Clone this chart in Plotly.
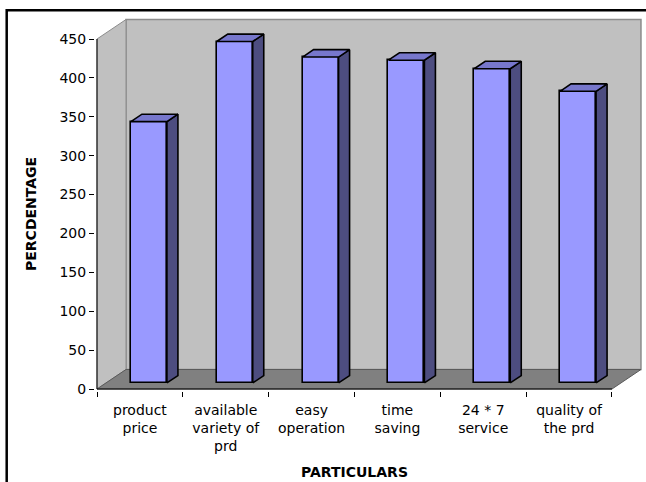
import plotly.graph_objects as go

# ---------------- data ----------------
categories = ["product price", "available variety of prd", "easy operation",
              "time saving", "24 * 7 service", "quality of the prd"]
tick_labels = ["product<br>price", "available<br>variety of<br>prd", "easy<br>operation",
               "time<br>saving", "24 * 7<br>service", "quality of<br>the prd"]
values = [336, 439, 419, 415, 404, 375]
y_ticks = [0, 50, 100, 150, 200, 250, 300, 350, 400, 450]
y_max = 450
x_title = "PARTICULARS"
y_title = "PERCDENTAGE"

# ---------------- geometry ----------------
W, H = 646, 482
L, R, T, B = 95, 3, 17, 91
plot_w, plot_h = W - L - R, H - T - B
px_x = 85.83              # px per category
px_y = 350.0 / 450.0      # px per value unit
x0 = -0.5 - 2 / px_x
y0 = -2 / px_y
x_range = [x0, x0 + plot_w / px_x]
y_range = [y0, y0 + plot_h / px_y]

n = len(values)
idx = list(range(n))
DX = 29 / px_x            # depth offset (x units)
DY = 19.5 / px_y          # depth offset (y units)
f1, f2 = 0.31, 0.69       # front / back depth fraction of bars
bw = 36 / px_x            # bar width

FRONT = "#9999FF"
TOP = "#7777CC"
SIDE = "#4D4D80"
WALL = "#C0C0C0"
FLOOR = "#808080"
EDGE = "#8C8C8C"

fig = go.Figure()

# front faces
fig.add_trace(go.Bar(
    x=idx, y=values, base=[f1 * DY] * n, width=bw, offset=f1 * DX - bw / 2,
    marker=dict(color=FRONT, line=dict(color="black", width=1.6)),
    hoverinfo="skip", showlegend=False))

# side and top faces
sx, sy = [], []
tx, ty = [], []
for c, v in zip(idx, values):
    xr1 = c + f1 * DX + bw / 2
    xr2 = c + f2 * DX + bw / 2
    xl1 = c + f1 * DX - bw / 2
    xl2 = c + f2 * DX - bw / 2
    sx += [xr1, xr2, xr2, xr1, xr1, None]
    sy += [f1 * DY, f2 * DY, f2 * DY + v, f1 * DY + v, f1 * DY, None]
    tx += [xl1, xr1, xr2, xl2, xl1, None]
    ty += [f1 * DY + v, f1 * DY + v, f2 * DY + v, f2 * DY + v, f1 * DY + v, None]

fig.add_trace(go.Scatter(x=sx, y=sy, mode="lines", fill="toself", fillcolor=SIDE,
                         line=dict(color="black", width=1.6), hoverinfo="skip",
                         showlegend=False))
fig.add_trace(go.Scatter(x=tx, y=ty, mode="lines", fill="toself", fillcolor=TOP,
                         line=dict(color="black", width=1.6), hoverinfo="skip",
                         showlegend=False))

# ---------------- walls / floor ----------------
xa, xb = -0.5, n - 0.5
shapes = []
# back wall
shapes.append(dict(type="rect", xref="x", yref="y", x0=xa + DX, x1=xb + DX,
                   y0=DY, y1=y_max + DY, fillcolor=WALL,
                   line=dict(color=EDGE, width=1.5), layer="below"))
# left wall
shapes.append(dict(type="path", xref="x", yref="y",
                   path=f"M{xa},0 L{xa},{y_max} L{xa + DX},{y_max + DY} L{xa + DX},{DY} Z",
                   fillcolor=WALL, line=dict(color=EDGE, width=1), layer="below"))
# floor
shapes.append(dict(type="path", xref="x", yref="y",
                   path=f"M{xa},0 L{xb},0 L{xb + DX},{DY} L{xa + DX},{DY} Z",
                   fillcolor=FLOOR, line=dict(color="#5A5A5A", width=1), layer="below"))
# axis lines
shapes.append(dict(type="line", xref="x", yref="y", x0=xa, x1=xa, y0=0, y1=y_max,
                   line=dict(color="black", width=1)))
shapes.append(dict(type="line", xref="x", yref="y", x0=xa, x1=xb, y0=0, y1=0,
                   line=dict(color="black", width=1)))
# outer frame
shapes.append(dict(type="rect", xref="paper", yref="paper",
                   x0=(6.7 - L) / plot_w, x1=1.2,
                   y0=-0.5, y1=(H - B - 10.2) / plot_h,
                   fillcolor="rgba(0,0,0,0)", line=dict(color="black", width=2.5)))

font_family = "DejaVu Sans"

annotations = [
    dict(text=x_title, xref="x", yref="paper", x=(n - 1) / 2,
         y=(H - B - 472) / plot_h, showarrow=False, xanchor="center", yanchor="middle",
         font=dict(family=font_family, size=14, color="black", weight="bold")),
    dict(text=y_title, xref="paper", yref="y", x=(31 - L) / plot_w, y=y_max / 2,
         textangle=-90, showarrow=False, xanchor="center", yanchor="middle",
         font=dict(family=font_family, size=14, color="black", weight="bold")),
]

fig.update_layout(
    width=W, height=H,
    margin=dict(l=L, r=R, t=T, b=B, pad=0),
    paper_bgcolor="white", plot_bgcolor="white",
    shapes=shapes, annotations=annotations,
    bargap=0,
    xaxis=dict(range=x_range, showgrid=False, zeroline=False, showline=False,
               tickmode="array", tickvals=idx, ticktext=tick_labels,
               ticks="outside", ticklen=6, tickcolor="rgba(0,0,0,0)",
               tickfont=dict(family=font_family, size=14, color="black"),
               minor=dict(tickmode="array", tickvals=[i - 0.5 for i in range(n + 1)],
                          ticks="outside", ticklen=5, tickcolor="black", tickwidth=1,
                          showgrid=False),
               fixedrange=True),
    yaxis=dict(range=y_range, showgrid=False, zeroline=False, showline=False,
               tickmode="array", tickvals=y_ticks,
               ticks="outside", ticklen=5, tickcolor="black", tickwidth=1,
               tickfont=dict(family=font_family, size=14, color="black"),
               fixedrange=True),
)

fig.write_html("out.html")
